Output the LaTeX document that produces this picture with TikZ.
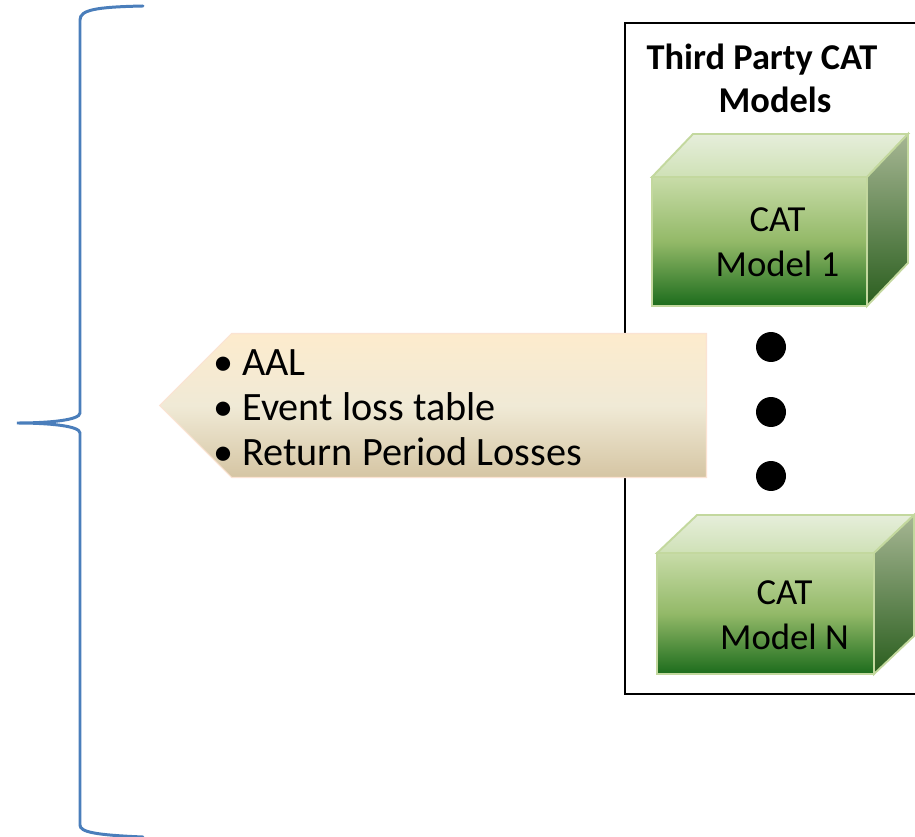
\documentclass[tikz,border=0pt]{standalone}
\usepackage{fontspec}
\setmainfont{Carlito}
\usetikzlibrary{calc, shapes.symbols}
\definecolor{bracec}{HTML}{4A7EBB}
\definecolor{cubeedge}{HTML}{C3D89E}
\definecolor{cubetop}{HTML}{C8DCA8}
\definecolor{cubemid}{HTML}{93B968}
\definecolor{cubebot}{HTML}{1C6C1C}
\definecolor{lidtop}{HTML}{E6EEDB}
\definecolor{lidbot}{HTML}{CFE1B6}
\definecolor{sidetop}{HTML}{A6B693}
\definecolor{sidebot}{HTML}{2A5E1E}
\definecolor{tagtop}{HTML}{FDEBCD}
\definecolor{tagmid}{HTML}{F0EAD6}
\definecolor{tagbot}{HTML}{D5C5A3}
\definecolor{tagedge}{HTML}{FBE3D3}
\newcommand{\bul}{\makebox[0.58cm][l]{\textbullet}}

\begin{document}
\begin{tikzpicture}[x=0.02cm, y=-0.02cm,
        cubefront/.style={draw=cubeedge, line width=1.1pt, outer sep=0pt, inner sep=0pt,
            top color=cubetop, bottom color=cubebot, middle color=cubemid},
        cubelid/.style={draw=cubeedge, line width=1.1pt, top color=lidtop, bottom color=lidbot},
        cubeside/.style={draw=cubeedge, line width=1.1pt, top color=sidetop, bottom color=sidebot},
        cubetext/.style={align=center, font=\fontsize{20.9pt}{25.5pt}\selectfont}
    ]
    \useasboundingbox (0,0) rectangle (915,837);

    % brace
    \draw[bracec, line width=1.7pt, line cap=round]
        (143,6) .. controls (95,7) and (80,10) .. (80,20) -- (80,413)
        .. controls (80,420) and (50,423) .. (17,423)
        .. controls (50,423) and (80,426) .. (80,433) -- (80,825)
        .. controls (80,832) and (95,835) .. (143,837);

    % frame of the models
    \draw[line width=1.1pt] (915,23) -| (625,694) -- (915,694);
    \node[font=\bfseries\fontsize{20.7pt}{24.4pt}\selectfont, align=center] (title) at (762,78) {Third Party CAT\\\hspace*{0.52cm}Models};

    % cubes
    \node[cubefront, minimum width=4.30cm, minimum height=2.58cm,
        label={[cubetext, xshift=0.36cm, yshift=-0.02cm]center:{CAT\\Model 1}}] (m1) at (759.5,241.5) {};
    \path[cubelid] (m1.north west) -- ($(m1.north west)+(41,-43)$) -- ($(m1.north east)+(41,-43)$) -- (m1.north east) -- cycle;
    \path[cubeside] (m1.north east) -- ($(m1.north east)+(41,-43)$) -- ($(m1.south east)+(41,-43)$) -- (m1.south east) -- cycle;

    \node[cubefront, minimum width=4.34cm, minimum height=2.42cm,
        label={[cubetext, xshift=0.38cm, yshift=-0.03cm]center:{CAT\\Model N}}] (mn) at (765.5,613.5) {};
    \path[cubelid] (mn.north west) -- ($(mn.north west)+(40,-38)$) -- ($(mn.north east)+(40,-38)$) -- (mn.north east) -- cycle;
    \path[cubeside] (mn.north east) -- ($(mn.north east)+(40,-38)$) -- ($(mn.south east)+(40,-38)$) -- (mn.south east) -- cycle;

    % dots between the models
    \foreach \y [count=\i] in {347,412,476}
        \node[circle, fill=black, inner sep=0pt, minimum size=0.6cm] (dot\i) at (771,\y) {};

    % results
    \node[shape=signal, signal to=west, signal pointer angle=90, draw=tagedge, line width=0.6pt,
        top color=tagtop, bottom color=tagbot, middle color=tagmid,
        minimum width=10.94cm, minimum height=2.88cm, inner sep=0pt, anchor=east] (result) at (707,405.5) {};
    \node[anchor=west, inner sep=0pt, align=left, font=\fontsize{22.9pt}{25.5pt}\selectfont] (resulttext) at (213,408)
        {\bul AAL\\\bul Event loss table\\\bul Return Period Losses};
\end{tikzpicture}
\end{document}
